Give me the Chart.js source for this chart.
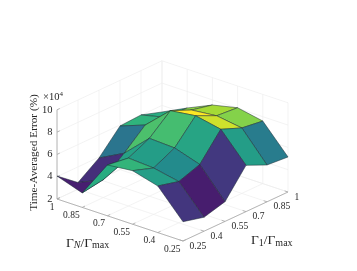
<!DOCTYPE html>
<html>
<head>
<meta charset="utf-8">
<script src="https://cdn.jsdelivr.net/npm/chart.js@4"></script>
<style>
  html, body { margin: 0; padding: 0; background: #fff; }
  canvas { display: block; }
</style>
</head>
<body>
<canvas id="grafico" width="357" height="271"></canvas>
<script>
// axis values
const gammaN = [0.25, 0.4, 0.55, 0.7, 0.85, 1];
const gamma1 = [0.25, 0.4, 0.55, 0.7, 0.85, 1];
const gammaLabels = ['0.25', '0.4', '0.55', '0.7', '0.85', '1'];
const errorTicks = [2, 4, 6, 8, 10];

// time-averaged error (x 10^4), one list per gammaN value, left to right along gamma1
const errorN025 = [3.73, 3.25, 3.77, 6.15, 5.30, 5.14];
const errorN040 = [6.18, 5.70, 6.35, 8.63, 7.87, 7.61];
const errorN055 = [6.80, 6.16, 7.08, 9.09, 8.21, 8.05];
const errorN070 = [6.56, 6.30, 7.19, 8.79, 7.97, 7.54];
const errorN085 = [3.30, 3.60, 5.10, 6.75, 6.56, 6.52];
const errorN100 = [4.06, 2.60, 3.92, 5.91, 6.02, 5.41];
const errorRows = [errorN025, errorN040, errorN055, errorN070, errorN085, errorN100];

const viridis = ['#440154', '#482475', '#3b528b', '#2c728e', '#21918c', '#2ab07f', '#5ec962', '#aadc32', '#fde725'];

// view of the 3d box, in canvas pixels
const frontX = 183, frontY = 241;
const spanNx = -126, spanNy = -42;
const span1x = 105, span1y = -49;
const pxPerError = 11.15;
const zBase = 2, zTop = 10;

function project(n, one, z) {
  const a = (n - 0.25) / 0.75;
  const b = (one - 0.25) / 0.75;
  return {
    x: frontX + a * spanNx + b * span1x,
    y: frontY + a * spanNy + b * span1y - (z - zBase) * pxPerError
  };
}

function hexToRgb(h) {
  return [1, 3, 5].map(k => parseInt(h.substr(k, 2), 16));
}

const allErrors = errorRows.flat();
const minError = Math.min(...allErrors);
const maxError = Math.max(...allErrors);

function faceColor(v) {
  const t = (v - minError) / (maxError - minError) * (viridis.length - 1);
  const k = Math.min(Math.floor(t), viridis.length - 2);
  const c0 = hexToRgb(viridis[k]);
  const c1 = hexToRgb(viridis[k + 1]);
  const f = t - k;
  return 'rgb(' + c0.map((c, m) => Math.round(c + (c1[m] - c) * f)).join(',') + ')';
}

function lineSet(points, color, width) {
  return {
    data: points, showLine: true, fill: false, borderColor: color, borderWidth: width,
    pointRadius: 0, tension: 0
  };
}

const datasets = [];

// surface, nearest face first because chart.js paints the first dataset last
for (let i = 0; i < gammaN.length - 1; i++) {
  for (let j = 0; j < gamma1.length - 1; j++) {
    const corners = [
      project(gammaN[i], gamma1[j], errorRows[i][j]),
      project(gammaN[i], gamma1[j + 1], errorRows[i][j + 1]),
      project(gammaN[i + 1], gamma1[j + 1], errorRows[i + 1][j + 1]),
      project(gammaN[i + 1], gamma1[j], errorRows[i + 1][j]),
      project(gammaN[i], gamma1[j], errorRows[i][j])
    ];
    const color = faceColor(errorRows[i][j]);
    datasets.push({
      data: corners, showLine: true, fill: 'shape', backgroundColor: color,
      borderColor: '#1d2b33', borderWidth: 0.5, pointRadius: 0, tension: 0
    });
  }
}

// axis lines and tick marks
const axisColor = '#a6a6a6';
const tickLen = 0.02;
datasets.push(lineSet([project(1, 0.25, zBase), project(1, 0.25, zTop)], axisColor, 0.8));
datasets.push(lineSet([project(0.25, 0.25, zBase), project(1, 0.25, zBase)], axisColor, 0.8));
datasets.push(lineSet([project(0.25, 0.25, zBase), project(0.25, 1, zBase)], axisColor, 0.8));
errorTicks.forEach(z => {
  datasets.push(lineSet([project(1, 0.25, z), project(1, 0.25 + tickLen, z)], axisColor, 0.8));
});
gammaN.forEach(n => {
  datasets.push(lineSet([project(n, 0.25, zBase), project(n, 0.25 + tickLen, zBase)], axisColor, 0.8));
});
gamma1.forEach(g => {
  datasets.push(lineSet([project(0.25, g, zBase), project(0.25 + tickLen, g, zBase)], axisColor, 0.8));
});

// light grid on the floor and the two back walls
const gridColor = '#eeeeee';
gammaN.forEach(n => {
  datasets.push(lineSet([project(n, 0.25, zBase), project(n, 1, zBase), project(n, 1, zTop)], gridColor, 0.7));
});
gamma1.forEach(g => {
  datasets.push(lineSet([project(0.25, g, zBase), project(1, g, zBase), project(1, g, zTop)], gridColor, 0.7));
});
errorTicks.forEach(z => {
  datasets.push(lineSet([project(1, 0.25, z), project(1, 1, z), project(0.25, 1, z)], gridColor, 0.7));
});

const serif = '"Liberation Serif", serif';
const textColor = '#262626';

// writes pieces of text one after the other, used for the math labels
function writeRuns(ctx, x, y, runs) {
  runs.forEach(r => {
    ctx.font = (r.style || '') + ' ' + r.size + 'px ' + serif;
    ctx.fillText(r.text, x, y + (r.drop || 0));
    x += ctx.measureText(r.text).width + (r.gap || 0);
  });
}

const axisText = {
  id: 'axisText',
  afterDraw(chart) {
    const ctx = chart.ctx;
    const xs = chart.scales.x;
    const ys = chart.scales.y;
    const at = p => ({ x: xs.getPixelForValue(p.x), y: ys.getPixelForValue(p.y) });
    ctx.save();
    ctx.fillStyle = textColor;
    ctx.textBaseline = 'middle';

    // error ticks
    ctx.font = '10.5px ' + serif;
    ctx.textAlign = 'right';
    errorTicks.forEach(z => {
      const p = at(project(1, 0.25, z));
      ctx.fillText(String(z), p.x - 4.5, p.y);
    });

    // gammaN ticks
    ctx.font = '9.5px ' + serif;
    gammaN.forEach((n, k) => {
      const p = at(project(n, 0.25, zBase));
      ctx.fillText(gammaLabels[k], p.x - 2.5, p.y + 8);
    });

    // gamma1 ticks
    ctx.textAlign = 'left';
    gamma1.forEach((g, k) => {
      const p = at(project(0.25, g, zBase));
      ctx.fillText(gammaLabels[k], p.x + 6.5, p.y + 5);
    });

    // exponent
    writeRuns(ctx, 43, 97, [
      { text: '\u00d7', size: 10.5 },
      { text: '10', size: 10.5 },
      { text: '4', size: 7, drop: -3 }
    ]);

    // axis titles
    writeRuns(ctx, 66, 243, [
      { text: '\u0393', size: 13.5 },
      { text: 'N', size: 10, style: 'italic', drop: 2.5 },
      { text: '/\u0393', size: 13.5 },
      { text: 'max', size: 10, drop: 2.5 }
    ]);
    writeRuns(ctx, 251, 240.5, [
      { text: '\u0393', size: 13.5 },
      { text: '1', size: 10, drop: 2.5 },
      { text: '/\u0393', size: 13.5 },
      { text: 'max', size: 10, drop: 2.5 }
    ]);

    // error title
    ctx.translate(34, 152.5);
    ctx.rotate(-Math.PI / 2);
    ctx.textAlign = 'center';
    ctx.font = '11.3px ' + serif;
    ctx.fillText('Time-Averaged Error (%)', 0, 0);
    ctx.restore();
  }
};

new Chart(document.getElementById('grafico'), {
  type: 'scatter',
  data: { datasets: datasets },
  options: {
    responsive: false,
    animation: false,
    layout: { padding: 0 },
    plugins: { legend: { display: false }, tooltip: { enabled: false } },
    scales: {
      x: { type: 'linear', display: false, min: 0, max: 357 },
      y: { type: 'linear', display: false, min: 0, max: 271, reverse: true }
    }
  },
  plugins: [axisText]
});
</script>
</body>
</html>
